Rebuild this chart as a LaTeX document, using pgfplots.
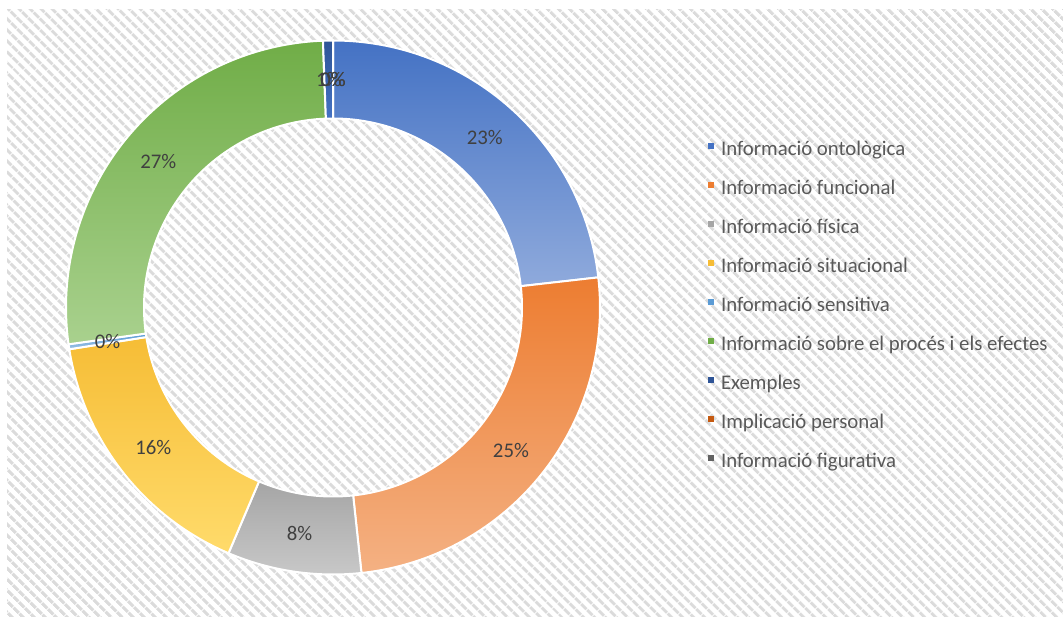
\documentclass[border=0pt]{standalone}
\usepackage{fontspec}
\setmainfont{Carlito}
\usepackage{pgfplots}
\usepackage{pgfplotstable}
\pgfplotsset{compat=1.18}
\usetikzlibrary{patterns.meta}

\definecolor{c0}{HTML}{4472C4}\definecolor{l0}{HTML}{8FAADC}
\definecolor{c1}{HTML}{ED7D31}\definecolor{l1}{HTML}{F4B183}
\definecolor{c2}{HTML}{A5A5A5}\definecolor{l2}{HTML}{C9C9C9}
\definecolor{c3}{HTML}{F6BD36}\definecolor{l3}{HTML}{FFDB6B}
\definecolor{c4}{HTML}{5B9BD5}\definecolor{l4}{HTML}{9DC3E6}
\definecolor{c5}{HTML}{70AD47}\definecolor{l5}{HTML}{A9D18E}
\definecolor{c6}{HTML}{2F5597}\definecolor{l6}{HTML}{4472C4}
\definecolor{c7}{HTML}{C55A11}\definecolor{l7}{HTML}{ED7D31}
\definecolor{c8}{HTML}{636363}\definecolor{l8}{HTML}{7F7F7F}
\definecolor{labgray}{HTML}{404040}
\definecolor{leggray}{HTML}{595959}

\pgfplotstableread{
idx v
0 23.2
1 25.1
2 8.1
3 16.1
4 0.3
5 26.6
6 0.6
7 0.0
8 0.0
}\data

\begin{document}
\begin{tikzpicture}
\def\cum{0}
\pgfplotsforeachungrouped \i in {0,...,8}{%
  \pgfplotstablegetelem{\i}{v}\of\data
  \let\val\pgfplotsretval
  \pgfmathsetmacro\sa{90-3.6*\cum}%
  \pgfmathsetmacro\ma{90-3.6*(\cum+\val/2)}%
  \pgfmathsetmacro\cum{\cum+\val}%
  \pgfmathsetmacro\ea{90-3.6*\cum}%
  \pgfmathtruncatemacro\lb{round(\val)}%
  \expandafter\xdef\csname sa\i\endcsname{\sa}%
  \expandafter\xdef\csname ea\i\endcsname{\ea}%
  \expandafter\xdef\csname ma\i\endcsname{\ma}%
  \expandafter\xdef\csname lb\i\endcsname{\lb}%
  \xdef\cum{\cum}%
}
\begin{axis}[
  scale only axis, width=531.5pt, height=308pt,
  xmin=0, xmax=1063, ymin=0, ymax=616,
  hide axis, clip=false,
  legend cell align=left,
  legend style={at={(0.66604,0.7695)}, anchor=north west, draw=none, fill=none,
    inner sep=0pt, outer sep=0pt, row sep=10pt, column sep=3.5pt,
    font=\fontsize{10.4}{12}\selectfont, text=leggray,
    nodes={inner sep=0pt, text height=7pt, text depth=2.5pt}},
  legend image code/.code={\fill[#1, draw=none] (0pt,1.1pt) rectangle (3pt,4.1pt);},
]
\path (axis cs:0,0) rectangle (axis cs:1063,616);
\fill[pattern={Lines[angle=-45,distance=4pt,line width=1.7pt]}, pattern color=black!14]
  (axis cs:7,0) rectangle (axis cs:1063,606);
\pgfplotsinvokeforeach{0,...,8}{
  \path[draw=white, line width=1pt, top color=c#1, bottom color=l#1]
    ([shift={(\csname sa#1\endcsname:133.5pt)}]axis cs:333,308.5)
    arc[start angle=\csname sa#1\endcsname, end angle=\csname ea#1\endcsname, radius=133.5pt]
    -- ([shift={(\csname ea#1\endcsname:94.5pt)}]axis cs:333,308.5)
    arc[start angle=\csname ea#1\endcsname, end angle=\csname sa#1\endcsname, radius=94.5pt]
    -- cycle;
}
\pgfplotsinvokeforeach{0,...,8}{
  \node[text=labgray, font=\fontsize{10.4}{12}\selectfont, inner sep=0pt]
    at ([shift={(\csname ma#1\endcsname:114pt)}]axis cs:333,308.5) {\csname lb#1\endcsname\%};
}
\addlegendimage{fill=c0}\addlegendentry{Informació ontològica}
\addlegendimage{fill=c1}\addlegendentry{Informació funcional}
\addlegendimage{fill=c2}\addlegendentry{Informació física}
\addlegendimage{fill=c3}\addlegendentry{Informació situacional}
\addlegendimage{fill=c4}\addlegendentry{Informació sensitiva}
\addlegendimage{fill=c5}\addlegendentry{Informació sobre el procés i els efectes}
\addlegendimage{fill=c6}\addlegendentry{Exemples}
\addlegendimage{fill=c7}\addlegendentry{Implicació personal}
\addlegendimage{fill=c8}\addlegendentry{Informació figurativa}
\end{axis}
\end{tikzpicture}
\end{document}
